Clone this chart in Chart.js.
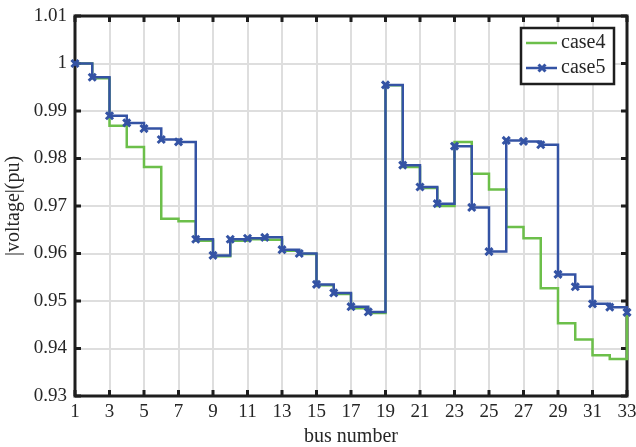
<!DOCTYPE html>
<html>
<head>
<meta charset="utf-8">
<script src="https://cdn.jsdelivr.net/npm/chart.js@4"></script>
<style>
  html, body { margin: 0; padding: 0; background: #fff; }
  canvas { display: block; }
</style>
</head>
<body>
<canvas id="chart" width="636" height="447"></canvas>
<script>
// bus numbers and voltage magnitudes
const buses = [1, 2, 3, 4, 5, 6, 7, 8, 9, 10, 11, 12, 13, 14, 15, 16, 17, 18, 19, 20, 21, 22, 23, 24, 25, 26, 27, 28, 29, 30, 31, 32, 33];
const case4 = [1.0000, 0.9969, 0.9869, 0.9824, 0.9782, 0.9673, 0.9668, 0.9627, 0.9594, 0.9627, 0.9630, 0.9629, 0.9606, 0.9599, 0.9533, 0.9515, 0.9485, 0.9475, 0.9954, 0.9782, 0.9738, 0.9700, 0.9835, 0.9768, 0.9735, 0.9656, 0.9632, 0.9527, 0.9453, 0.9419, 0.9386, 0.9378, 0.9472];
const case5 = [1.0000, 0.9971, 0.9890, 0.9875, 0.9863, 0.9840, 0.9835, 0.9630, 0.9596, 0.9630, 0.9632, 0.9634, 0.9608, 0.9600, 0.9535, 0.9517, 0.9488, 0.9477, 0.9955, 0.9786, 0.9740, 0.9705, 0.9826, 0.9697, 0.9604, 0.9838, 0.9836, 0.9829, 0.9556, 0.9530, 0.9494, 0.9487, 0.9476];
const xTicks = [1, 3, 5, 7, 9, 11, 13, 15, 17, 19, 21, 23, 25, 27, 29, 31, 33];
const yTicks = [0.93, 0.94, 0.95, 0.96, 0.97, 0.98, 0.99, 1.00, 1.01];

const GREEN = '#6cbf4a', BLUE = '#3453a4', INK = '#1e1e1e', TXT = '#262626';
const FONT = 'Liberation Serif, Times New Roman, serif';

const toPts = ys => buses.map((b, i) => ({ x: b, y: ys[i] }));

// box with inward tick marks (matlab style) + legend inside top right
const frame = {
  id: 'frame',
  beforeDatasetsDraw(chart) {
    const { ctx, chartArea: a, scales: { x, y } } = chart;
    ctx.save();
    ctx.strokeStyle = INK;
    ctx.lineWidth = 3;
    ctx.beginPath();
    xTicks.forEach(v => {
      const px = x.getPixelForValue(v);
      ctx.moveTo(px, a.bottom); ctx.lineTo(px, a.bottom - 6);
      ctx.moveTo(px, a.top); ctx.lineTo(px, a.top + 6);
    });
    yTicks.forEach(v => {
      const py = y.getPixelForValue(v);
      ctx.moveTo(a.left, py); ctx.lineTo(a.left + 6, py);
      ctx.moveTo(a.right, py); ctx.lineTo(a.right - 6, py);
    });
    ctx.stroke();
    ctx.strokeRect(a.left, a.top, a.right - a.left, a.bottom - a.top);
    ctx.restore();
  },
  afterDraw(chart) {
    const ctx = chart.ctx;
    const bx = 521, by = 28, bw = 93, bh = 56;
    ctx.save();
    ctx.fillStyle = '#fff';
    ctx.fillRect(bx, by, bw, bh);
    ctx.strokeStyle = INK;
    ctx.lineWidth = 2.5;
    ctx.strokeRect(bx, by, bw, bh);
    const rows = [
      { label: 'case4', color: GREEN, marker: false, y: 43 },
      { label: 'case5', color: BLUE, marker: true, y: 68 }
    ];
    rows.forEach(r => {
      ctx.strokeStyle = r.color;
      ctx.lineWidth = 2.5;
      ctx.beginPath();
      ctx.moveTo(526, r.y); ctx.lineTo(557, r.y);
      ctx.stroke();
      if (r.marker) {
        const s = 3.5, cx = 542;
        ctx.lineWidth = 3;
        ctx.beginPath();
        ctx.moveTo(cx - s, r.y - s); ctx.lineTo(cx + s, r.y + s);
        ctx.moveTo(cx - s, r.y + s); ctx.lineTo(cx + s, r.y - s);
        ctx.stroke();
      }
      ctx.fillStyle = TXT;
      ctx.font = '20px ' + FONT;
      ctx.textBaseline = 'middle';
      ctx.textAlign = 'left';
      ctx.fillText(r.label, 561, r.y);
    });
    ctx.restore();
  }
};

new Chart(document.getElementById('chart'), {
  type: 'line',
  data: {
    datasets: [
      { label: 'case5', data: toPts(case5), borderColor: BLUE, backgroundColor: BLUE, borderWidth: 2.5,
        stepped: true, pointStyle: 'crossRot', pointRadius: 5, pointBorderWidth: 3, clip: false },
      { label: 'case4', data: toPts(case4), borderColor: GREEN, backgroundColor: GREEN, borderWidth: 2.5,
        stepped: true, pointRadius: 0, clip: false }
    ]
  },
  options: {
    responsive: false,
    animation: false,
    devicePixelRatio: 1,
    layout: { padding: { top: 16, right: 9, left: 0, bottom: 0 } },
    plugins: { legend: { display: false }, tooltip: { enabled: false } },
    scales: {
      x: {
        type: 'linear', min: 1, max: 33,
        afterBuildTicks: s => { s.ticks = xTicks.map(v => ({ value: v })); },
        afterFit: s => { s.height = 51; s.paddingLeft = 0; s.paddingRight = 0; },
        grid: { color: '#dedede', lineWidth: 2, drawTicks: false },
        border: { display: false },
        ticks: { color: TXT, padding: 5, maxRotation: 0, autoSkip: false, font: { family: FONT, size: 19 } },
        title: { display: true, text: 'bus number', color: TXT, padding: 0, font: { family: FONT, size: 20, lineHeight: 1 } }
      },
      y: {
        min: 0.93, max: 1.01,
        afterBuildTicks: s => { s.ticks = yTicks.map(v => ({ value: v })); },
        afterFit: s => { s.width = 75; s.paddingTop = 0; s.paddingBottom = 0; },
        grid: { color: '#dedede', lineWidth: 2, drawTicks: false },
        border: { display: false },
        ticks: { color: TXT, padding: 8, autoSkip: false, font: { family: FONT, size: 19 },
          callback: v => String(parseFloat(v.toFixed(2))) },
        title: { display: true, text: '|voltage|(pu)', color: TXT, padding: { top: 4, bottom: 0 }, font: { family: FONT, size: 20, lineHeight: 1 } }
      }
    }
  },
  plugins: [frame]
});
</script>
</body>
</html>
